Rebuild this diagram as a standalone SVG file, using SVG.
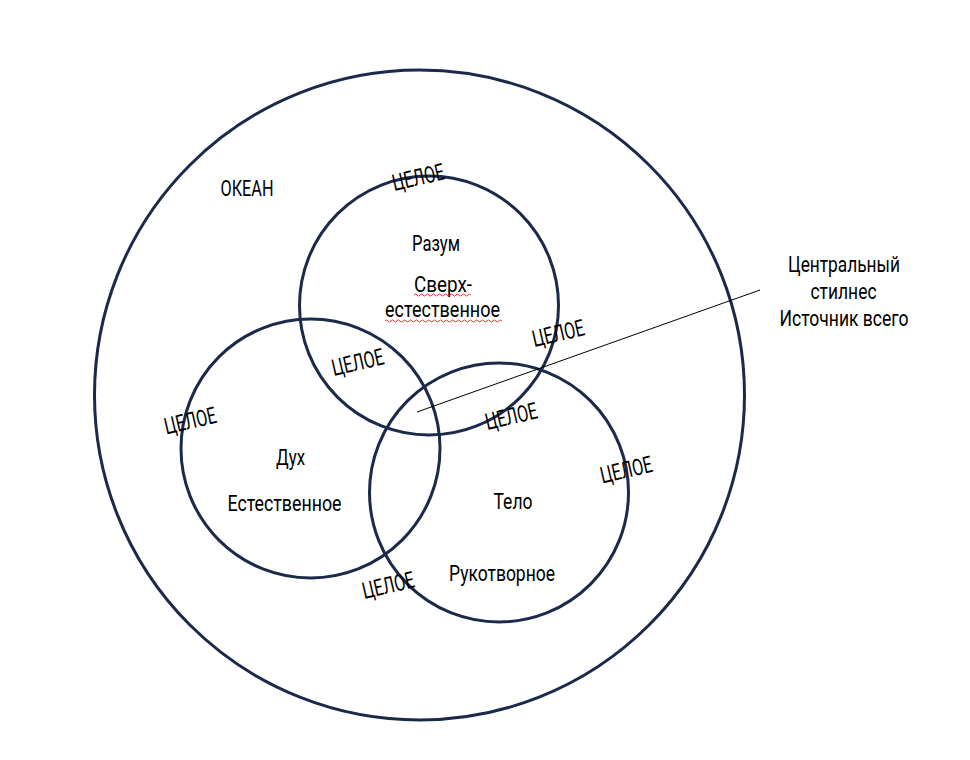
<svg xmlns="http://www.w3.org/2000/svg" width="970" height="760" viewBox="0 0 970 760">
<style>
.c{fill:none;stroke:#1b2a4a;stroke-width:3}
.t{font-family:Roboto,"Liberation Sans",sans-serif;font-size:22.5px;fill:#000;text-anchor:middle}
.w{font-family:Roboto,"Liberation Sans",sans-serif;font-size:23px;fill:#000;text-anchor:middle}
.sq{fill:none;stroke:#e02020;stroke-width:0.9}
</style>
<rect width="970" height="760" fill="#fff"/>
<g id="ocean">
<circle class="c" cx="419.5" cy="395" r="325"/>
<text class="t" x="247" y="196" textLength="53" lengthAdjust="spacingAndGlyphs">ОКЕАН</text>
</g>
<g id="razum">
<circle class="c" cx="429" cy="305.5" r="129.5"/>
<text class="t" x="436" y="251" textLength="48" lengthAdjust="spacingAndGlyphs">Разум</text>
<text class="t" x="443" y="291.5" textLength="58" lengthAdjust="spacingAndGlyphs">Сверх-</text>
<text class="t" x="442.5" y="316.5" textLength="115" lengthAdjust="spacingAndGlyphs">естественное</text>
<path class="sq" d="M414 295 q1.5 -2 3 0 t3 0 t3 0 t3 0 t3 0 t3 0 t3 0 t3 0 t3 0 t3 0 t3 0 t3 0 t3 0 t3 0 t3 0 t3 0 t3 0 t3 0 t3 0"/>
<path class="sq" d="M385 321 q1.5 -2 3 0 t3 0 t3 0 t3 0 t3 0 t3 0 t3 0 t3 0 t3 0 t3 0 t3 0 t3 0 t3 0 t3 0 t3 0 t3 0 t3 0 t3 0 t3 0 t3 0 t3 0 t3 0 t3 0 t3 0 t3 0 t3 0 t3 0 t3 0 t3 0 t3 0 t3 0 t3 0 t3 0 t3 0 t3 0 t3 0 t3 0 t3 0 t3 0"/>
</g>
<g id="dukh">
<circle class="c" cx="310.5" cy="448.5" r="129.5"/>
<text class="t" x="290.5" y="465" textLength="29" lengthAdjust="spacingAndGlyphs">Дух</text>
<text class="t" x="284.5" y="510.5" textLength="114" lengthAdjust="spacingAndGlyphs">Естественное</text>
</g>
<g id="telo">
<circle class="c" cx="499" cy="492.5" r="129.5"/>
<text class="t" x="513" y="509" textLength="39" lengthAdjust="spacingAndGlyphs">Тело</text>
<text class="t" x="502" y="580.5" textLength="106" lengthAdjust="spacingAndGlyphs">Рукотворное</text>
</g>
<g id="connectors">
<line x1="417" y1="412" x2="760" y2="290" stroke="#000" stroke-width="1"/>
</g>
<g id="source">
<text class="t" x="844" y="272" textLength="112" lengthAdjust="spacingAndGlyphs">Центральный</text>
<text class="t" x="843.5" y="299" textLength="66" lengthAdjust="spacingAndGlyphs">стилнес</text>
<text class="t" x="844" y="325.5" textLength="129" lengthAdjust="spacingAndGlyphs">Источник всего</text>
</g>
<g id="labels">
<text class="w" transform="translate(420,185) rotate(-13)" textLength="53" lengthAdjust="spacingAndGlyphs">ЦЕЛОЕ</text>
<text class="w" transform="translate(560,341) rotate(-13)" textLength="53" lengthAdjust="spacingAndGlyphs">ЦЕЛОЕ</text>
<text class="w" transform="translate(359.5,370) rotate(-13)" textLength="53" lengthAdjust="spacingAndGlyphs">ЦЕЛОЕ</text>
<text class="w" transform="translate(513,424) rotate(-13)" textLength="53" lengthAdjust="spacingAndGlyphs">ЦЕЛОЕ</text>
<text class="w" transform="translate(192,428.5) rotate(-13)" textLength="53" lengthAdjust="spacingAndGlyphs">ЦЕЛОЕ</text>
<text class="w" transform="translate(628,477.5) rotate(-13)" textLength="53" lengthAdjust="spacingAndGlyphs">ЦЕЛОЕ</text>
<text class="w" transform="translate(390,593) rotate(-13)" textLength="53" lengthAdjust="spacingAndGlyphs">ЦЕЛОЕ</text>
</g>
</svg>
